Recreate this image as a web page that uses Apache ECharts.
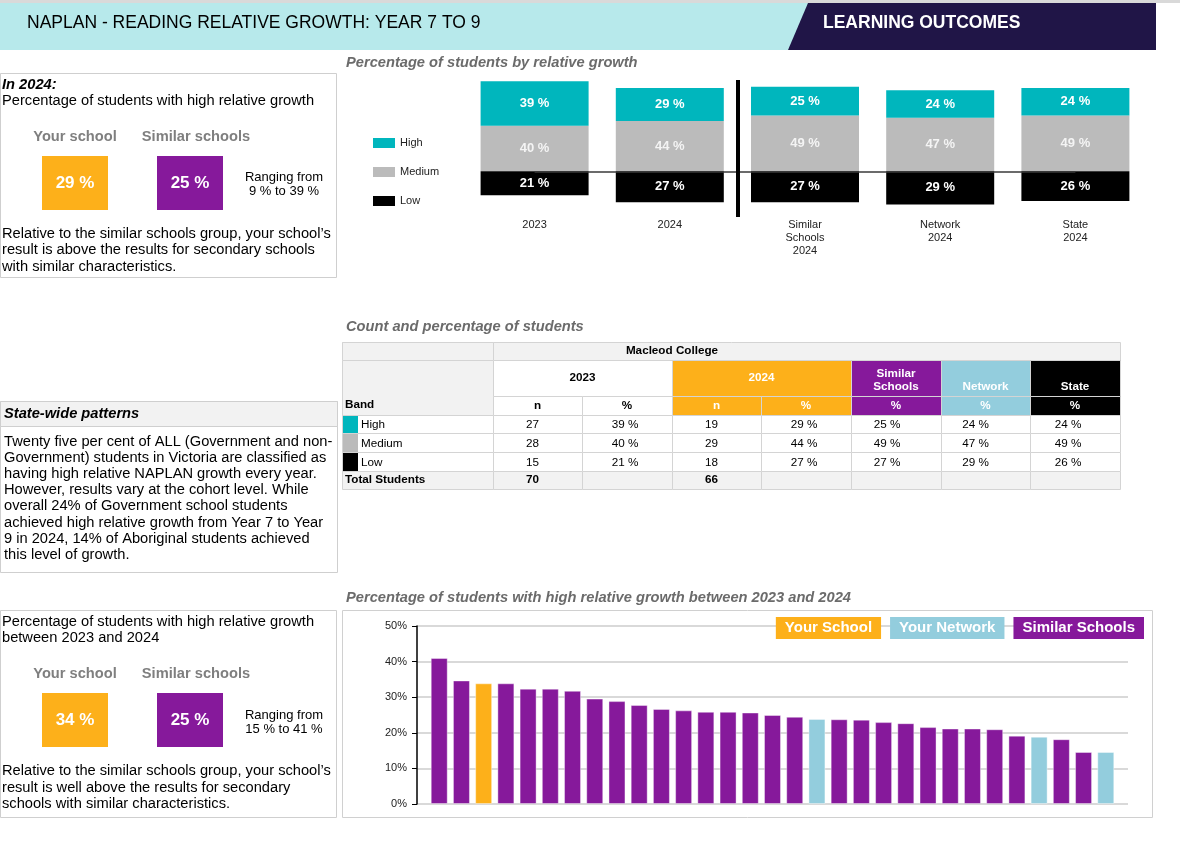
<!DOCTYPE html>
<html>
<head>
<meta charset="utf-8">
<title>NAPLAN - Reading relative growth: Year 7 to 9</title>
<script src="https://cdn.jsdelivr.net/npm/echarts@6/dist/echarts.min.js"></script>
<style>
html, body { margin: 0; padding: 0; background: #fff; }
#main { width: 1180px; height: 852px; }
</style>
</head>
<body>
<div id="main"></div>
<script>
var FONT = '"Liberation Sans", Arial, sans-serif';
var BODY = 14.67;   // 11pt
var TSIZE = 11.7;   // table text

// groups of the stacked chart (same order as the table columns)
var groups = ['2023', '2024', 'Similar\nSchools\n2024', 'Network\n2024', 'State\n2024'];
var bands = ['High', 'Medium', 'Low'];
var bandColors = ['#00b6bd', '#bbbbbb', '#000000'];

// counts and percentages, one entry per band (High, Medium, Low)
var n2023 = [27, 28, 15];
var n2024 = [19, 29, 18];
var pct2023 = [39, 40, 21];
var pct2024 = [29, 44, 27];
var pctSimilar = [25, 49, 27];
var pctNetwork = [24, 47, 29];
var pctState = [24, 49, 26];
var total2023 = 70;
var total2024 = 66;

// summary panels
var highSchool2024 = 29;
var highSimilar2024 = 25;
var highSimilarRange = [9, 39];
var growthSchool = 34;
var growthSimilar = 25;
var growthSimilarRange = [15, 41];

// high relative growth 2023-2024, one bar per school (Y = your school, N = network, S = similar)
var growthValues = [41, 34.7, 33.9, 33.9, 32.4, 32.4, 31.8, 29.6, 28.9, 27.8, 26.7, 26.3, 25.9, 25.9, 25.7,
  25.0, 24.5, 23.9, 23.8, 23.7, 23.0, 22.7, 21.6, 21.2, 21.2, 21.0, 19.2, 18.9, 18.2, 14.6, 14.6];
var growthTypes = ['S', 'S', 'Y', 'S', 'S', 'S', 'S', 'S', 'S', 'S', 'S', 'S', 'S', 'S', 'S',
  'S', 'S', 'N', 'S', 'S', 'S', 'S', 'S', 'S', 'S', 'S', 'S', 'N', 'S', 'S', 'N'];
var growthTicks = [0, 10, 20, 30, 40, 50];

var ORANGE = '#fdb01a';
var PURPLE = '#86199b';
var LIGHTBLUE = '#93cddd';
var GRID_LINE = '#d4d4d4';

var chartDom = document.getElementById('main');
var myChart = echarts.init(chartDom);
var option;

// ---- little graphic helpers ----
var graphics = [];
function box(x, y, w, h, fill, stroke) {
    graphics.push({
        type: 'rect', silent: true,
        shape: { x: x, y: y, width: w, height: h },
        style: { fill: fill || 'none', stroke: stroke || null, lineWidth: 1 }
    });
}
function txt(x, y, str, o) {
    o = o || {};
    graphics.push({
        type: 'text', silent: true, x: x, y: y,
        style: {
            text: str,
            fill: o.color || '#000',
            fontFamily: FONT,
            fontSize: o.size || BODY,
            fontWeight: o.bold ? 'bold' : 'normal',
            fontStyle: o.italic ? 'italic' : 'normal',
            lineHeight: o.lh || null,
            align: o.align || 'left',
            verticalAlign: o.va || 'middle'
        }
    });
}
function lines(x, y0, step, arr, o) {
    arr.forEach(function (s, i) { txt(x, y0 + i * step, s, o); });
}

// ---- header ----
box(0, 0, 1180, 3, '#d9d9d9');
box(0, 3, 812, 47, '#b7e9eb');
graphics.push({
    type: 'polygon', silent: true,
    shape: { points: [[808, 3], [1156, 3], [1156, 50], [788, 50]] },
    style: { fill: '#201547' }
});
txt(27, 23, 'NAPLAN - READING RELATIVE GROWTH: YEAR 7 TO 9', { size: 17.5 });
txt(823, 23, 'LEARNING OUTCOMES', { size: 17.5, bold: true, color: '#fff' });

// ---- chart titles ----
var TITLE = { bold: true, italic: true, color: '#6b6b6b' };
txt(346, 63, 'Percentage of students by relative growth', TITLE);
txt(346, 327, 'Count and percentage of students', TITLE);
txt(346, 598, 'Percentage of students with high relative growth between 2023 and 2024', TITLE);

// ---- summary panel helper ----
function summary(yLabels, yBox, yRange, school, similar, range) {
    txt(75, yLabels, 'Your school', { bold: true, color: '#7f7f7f', align: 'center' });
    txt(196, yLabels, 'Similar schools', { bold: true, color: '#7f7f7f', align: 'center' });
    box(42, yBox, 66, 54, ORANGE);
    box(157, yBox, 66, 54, PURPLE);
    txt(75, yBox + 27, school + ' %', { size: 17, bold: true, color: '#fff', align: 'center' });
    txt(190, yBox + 27, similar + ' %', { size: 17, bold: true, color: '#fff', align: 'center' });
    txt(284, yRange, 'Ranging from', { size: 13, align: 'center' });
    txt(284, yRange + 14, range[0] + ' % to ' + range[1] + ' %', { size: 13, align: 'center' });
}

// panel 1
box(0.5, 73.5, 336, 204, null, '#cfcfcf');
txt(2, 85, 'In 2024:', { bold: true, italic: true });
txt(2, 101, 'Percentage of students with high relative growth');
summary(137, 156, 177, highSchool2024, highSimilar2024, highSimilarRange);
lines(2, 234, 16.3, [
    'Relative to the similar schools group, your school\u2019s',
    'result is above the results for secondary schools',
    'with similar characteristics.'
]);

// panel 2
box(0.5, 401.5, 337, 171, null, '#cfcfcf');
box(0.5, 401.5, 337, 25, '#f2f2f2', '#cfcfcf');
txt(4, 414, 'State-wide patterns', { bold: true, italic: true });
lines(4, 442, 16.1, [
    'Twenty five per cent of ALL (Government and non-',
    'Government) students in Victoria are classified as',
    'having high relative NAPLAN growth every year.',
    'However, results vary at the cohort level. While',
    'overall 24% of Government school students',
    'achieved high relative growth from Year 7 to Year',
    '9 in 2024, 14% of Aboriginal students achieved',
    'this level of growth.'
]);

// panel 3
box(0.5, 610.5, 336, 207, null, '#cfcfcf');
lines(2, 622, 16.3, ['Percentage of students with high relative growth', 'between 2023 and 2024']);
summary(674, 693, 715, growthSchool, growthSimilar, growthSimilarRange);
lines(2, 771, 16.5, [
    'Relative to the similar schools group, your school\u2019s',
    'result is well above the results for secondary',
    'schools with similar characteristics.'
]);

// box around the bottom chart
box(342.5, 610.5, 810, 207, null, '#d0d0d0');

// ---- table ----
var cx = [342, 493, 582, 672, 761, 851, 941, 1030, 1120];
var ry = [342, 360, 396, 415, 433, 452, 471, 489];
var CELL = { size: TSIZE, align: 'center' };

// row 1: school name
box(cx[0] + 0.5, ry[0] + 0.5, cx[8] - cx[0], ry[1] - ry[0], '#f2f2f2', GRID_LINE);
box(cx[0] + 0.5, ry[0] + 0.5, cx[1] - cx[0], ry[1] - ry[0], '#f2f2f2', GRID_LINE);
txt((cx[1] + cx[5]) / 2, (ry[0] + ry[1]) / 2, 'Macleod College', { size: TSIZE, bold: true, align: 'center' });

// band header cell (rows 2-3)
box(cx[0] + 0.5, ry[1] + 0.5, cx[1] - cx[0], ry[3] - ry[1], '#f2f2f2', GRID_LINE);
txt(cx[0] + 3, 405, 'Band', { size: TSIZE, bold: true });

var heads = [
    { label: '2023', c0: 1, c1: 3, fill: '#ffffff', color: '#000', mid: true },
    { label: '2024', c0: 3, c1: 5, fill: ORANGE, color: '#fff', mid: true },
    { label: 'Similar\nSchools', c0: 5, c1: 6, fill: PURPLE, color: '#fff' },
    { label: 'Network', c0: 6, c1: 7, fill: LIGHTBLUE, color: '#fff' },
    { label: 'State', c0: 7, c1: 8, fill: '#000000', color: '#fff' }
];
heads.forEach(function (h) {
    var x0 = cx[h.c0], x1 = cx[h.c1];
    box(x0 + 0.5, ry[1] + 0.5, x1 - x0, ry[2] - ry[1], h.fill, GRID_LINE);
    if (h.mid) {
        txt((x0 + x1) / 2, (ry[1] + ry[2]) / 2, h.label, { size: TSIZE, bold: true, color: h.color, align: 'center' });
    } else {
        txt((x0 + x1) / 2, ry[2] - 3, h.label, { size: TSIZE, bold: true, color: h.color, align: 'center', va: 'bottom', lh: 13 });
    }
    for (var c = h.c0; c < h.c1; c++) {
        box(cx[c] + 0.5, ry[2] + 0.5, cx[c + 1] - cx[c], ry[3] - ry[2], h.fill, GRID_LINE);
        var sub = (h.c1 - h.c0 === 2 && c === h.c0) ? 'n' : '%';
        txt((cx[c] + cx[c + 1]) / 2, (ry[2] + ry[3]) / 2, sub, { size: TSIZE, bold: true, color: h.color, align: 'center' });
    }
});

// band rows
var colOffsets = [-5, -2, -5, -2, -9, -10, -7];
bands.forEach(function (b, i) {
    var y0 = ry[3 + i], y1 = ry[4 + i];
    var vals = [n2023[i], pct2023[i] + ' %', n2024[i], pct2024[i] + ' %',
        pctSimilar[i] + ' %', pctNetwork[i] + ' %', pctState[i] + ' %'];
    box(cx[0] + 0.5, y0 + 0.5, cx[1] - cx[0], y1 - y0, '#fff', GRID_LINE);
    box(cx[0] + 1, y0 + 1, 15, y1 - y0 - 1, bandColors[i]);
    txt(cx[0] + 19, (y0 + y1) / 2 + 1, b, { size: TSIZE });
    vals.forEach(function (v, k) {
        box(cx[k + 1] + 0.5, y0 + 0.5, cx[k + 2] - cx[k + 1], y1 - y0, '#fff', GRID_LINE);
        txt((cx[k + 1] + cx[k + 2]) / 2 + colOffsets[k], (y0 + y1) / 2 + 1, String(v), CELL);
    });
});

// totals row
var tY0 = ry[6], tY1 = ry[7];
box(cx[0] + 0.5, tY0 + 0.5, cx[1] - cx[0], tY1 - tY0, '#f2f2f2', GRID_LINE);
txt(cx[0] + 3, (tY0 + tY1) / 2, 'Total Students', { size: TSIZE, bold: true });
var totals = [total2023, '', total2024, '', '', '', ''];
totals.forEach(function (v, k) {
    box(cx[k + 1] + 0.5, tY0 + 0.5, cx[k + 2] - cx[k + 1], tY1 - tY0, '#f2f2f2', GRID_LINE);
    if (v !== '') {
        txt((cx[k + 1] + cx[k + 2]) / 2 + colOffsets[k], (tY0 + tY1) / 2, String(v), { size: TSIZE, bold: true, align: 'center' });
    }
});

// ---- stacked series (High on top of Medium, Low below zero) ----
function bandRow(i) {
    return [pct2023[i], pct2024[i], pctSimilar[i], pctNetwork[i], pctState[i]];
}
var stackLabel = {
    show: true,
    position: 'inside',
    color: '#fff',
    fontFamily: FONT,
    fontSize: 13,
    fontWeight: 'bold',
    formatter: function (p) { return Math.abs(p.value) + ' %'; }
};
var stackedSeries = [1, 0, 2].map(function (i) {
    var row = bandRow(i);
    var s = {
        name: bands[i],
        type: 'bar',
        stack: 'band',
        xAxisIndex: 0,
        yAxisIndex: 0,
        barWidth: 108,
        itemStyle: { color: bandColors[i] },
        label: Object.assign({}, stackLabel, i === 1 ? { color: '#f4f4f4' } : {}),
        data: i === 2 ? row.map(function (v) { return -v; }) : row
    };
    if (i === 1) {
        s.markLine = {
            silent: true,
            symbol: 'none',
            label: { show: false },
            lineStyle: { color: '#3a3a3a', width: 1.5, type: 'solid' },
            data: [[{ coord: [0, 0] }, { coord: [groups.length - 1, 0] }]]
        };
    }
    return s;
});

// vertical divider between the school and the comparison groups
stackedSeries.push({
    type: 'line',
    xAxisIndex: 1,
    yAxisIndex: 0,
    data: [],
    markLine: {
        silent: true,
        symbol: 'none',
        label: { show: false },
        lineStyle: { color: '#000', width: 4, type: 'solid' },
        data: [{ xAxis: 1.5 }]
    }
});

// ---- growth bars ----
var growthGroups = [
    { key: 'Y', name: 'Your School', color: ORANGE },
    { key: 'N', name: 'Your Network', color: LIGHTBLUE },
    { key: 'S', name: 'Similar Schools', color: PURPLE }
];
var growthSeries = growthGroups.map(function (g) {
    return {
        name: g.name,
        type: 'bar',
        xAxisIndex: 2,
        yAxisIndex: 1,
        barWidth: 17,
        barGap: '-100%',
        itemStyle: { color: g.color, borderColor: 'rgba(255,255,255,0.4)', borderWidth: 1 },
        data: growthValues.map(function (v, i) {
            return [i, growthTypes[i] === g.key ? v : null];
        })
    };
});

option = {
    animation: false,
    textStyle: { fontFamily: FONT },
    graphic: graphics,
    grid: [
        { left: 467, right: 37, top: 80, bottom: 635 },
        { left: 417, right: 52, top: 626, bottom: 48 }
    ],
    legend: [
        {
            orient: 'vertical',
            left: 373,
            top: 136,
            padding: 0,
            itemWidth: 22,
            itemHeight: 10,
            itemGap: 15,
            icon: 'rect',
            selectedMode: false,
            textStyle: { fontFamily: FONT, fontSize: 11, color: '#222', lineHeight: 14 },
            data: bands
        },
        {
            right: 36,
            top: 617,
            padding: 0,
            itemWidth: 0,
            itemHeight: 0,
            itemGap: 3,
            icon: 'rect',
            selectedMode: false,
            textStyle: {
                fontFamily: FONT, fontSize: 15, fontWeight: 'bold', color: '#fff',
                lineHeight: 16, padding: [3, 9]
            },
            data: growthGroups.map(function (g) {
                return { name: g.name, textStyle: { backgroundColor: g.color } };
            })
        }
    ],
    xAxis: [
        {
            type: 'category',
            gridIndex: 0,
            data: groups,
            axisLine: { show: false },
            axisTick: { show: false },
            axisLabel: { fontFamily: FONT, fontSize: 11, color: '#222', lineHeight: 13, margin: 1 }
        },
        { type: 'value', gridIndex: 0, min: -0.5, max: groups.length - 0.5, show: false },
        { type: 'value', gridIndex: 1, min: -1, max: growthValues.length, show: false }
    ],
    yAxis: [
        { type: 'value', gridIndex: 0, min: -40, max: 80, show: false },
        {
            type: 'value',
            gridIndex: 1,
            min: growthTicks[0],
            max: growthTicks[growthTicks.length - 1],
            interval: growthTicks[1] - growthTicks[0],
            axisLine: { show: true, onZero: false, lineStyle: { color: '#000', width: 1.5 } },
            axisTick: { show: true, length: 5, lineStyle: { color: '#000' } },
            axisLabel: { fontFamily: FONT, fontSize: 11, color: '#222', margin: 10, formatter: '{value}%' },
            splitLine: { lineStyle: { color: '#d9d9d9', width: 2 } }
        }
    ],
    series: stackedSeries.concat(growthSeries)
};

option && myChart.setOption(option);
</script>
</body>
</html>
